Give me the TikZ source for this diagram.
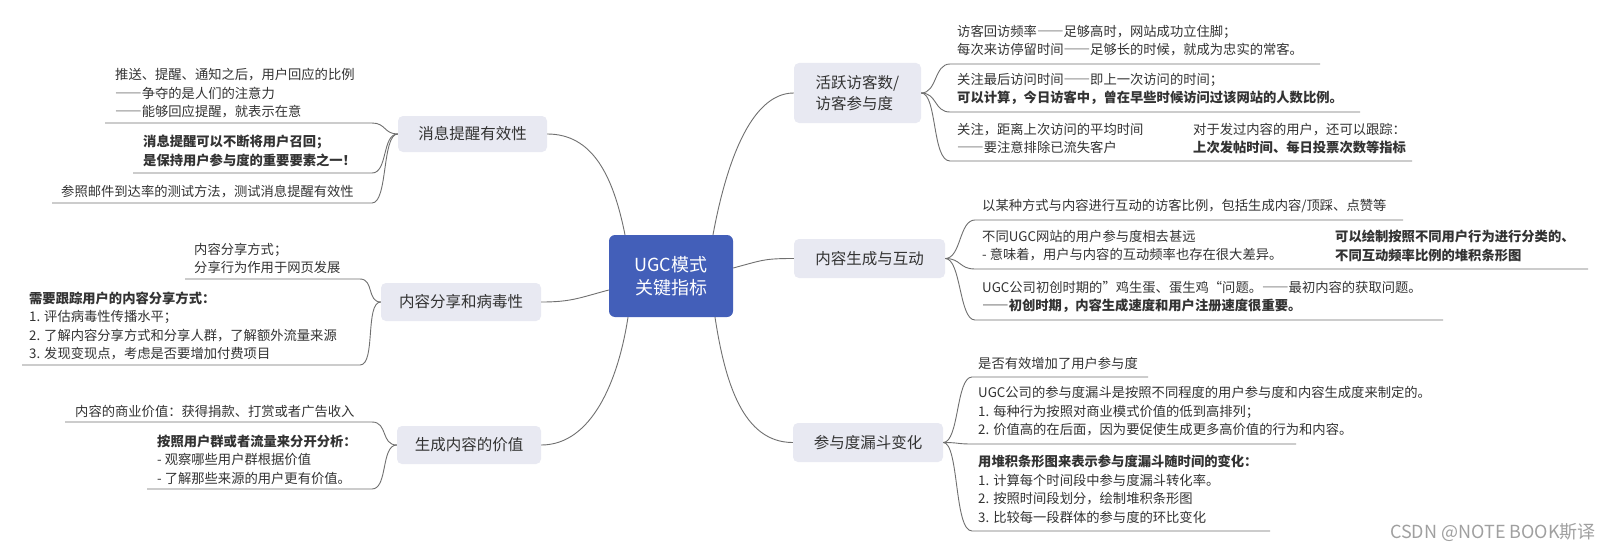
\documentclass[tikz,border=0pt]{standalone}
\usepackage{fontspec}
\setmainfont{Noto Sans CJK SC}
\newcommand\dsh{{\addfontfeature{RawFeature=+fwid}——}}
\definecolor{linec}{HTML}{707070}
\definecolor{txt}{HTML}{333333}
\definecolor{topicfill}{HTML}{E8E9F2}
\definecolor{centerfill}{HTML}{435FB9}
\definecolor{wmc}{HTML}{A0A0A0}
\begin{document}
\begin{tikzpicture}[x=1pt,y=-1pt,
  conn/.style={draw=linec,line width=0.9pt},
  topic/.style={fill=topicfill,rounded corners=5pt,text=txt,font=\fontsize{15.5}{21}\selectfont,inner sep=0pt,align=left},
  subtext/.style={text=txt,font=\fontsize{13.3}{18.5}\selectfont,align=left,inner sep=0pt,anchor=west},
  centerbox/.style={fill=centerfill,rounded corners=6pt,text=white,font=\fontsize{18}{23}\selectfont,align=center,inner sep=0pt,minimum width=124pt,minimum height=82pt}
  ]
\useasboundingbox[fill=white] (0,0) rectangle (1610,551);

% central node
\node[centerbox] (c) at (671,276) {UGC模式\\关键指标};

% topics
\node[topic,minimum width=149pt,minimum height=36pt] (m1) at (472.5,134) {消息提醒有效性};
\node[topic,minimum width=160pt,minimum height=38pt] (m2) at (461,302) {内容分享和病毒性};
\node[topic,minimum width=144pt,minimum height=38pt] (m3) at (469,445) {生成内容的价值};
\node[topic,minimum width=127pt,minimum height=60pt] (r1) at (857.5,93) {活跃访客数/\\访客参与度};
\node[topic,minimum width=151pt,minimum height=39pt] (r2) at (869.5,258.5) {内容生成与互动};
\node[topic,minimum width=150pt,minimum height=39pt] (r3) at (868,442.5) {参与度漏斗变化};

% center connectors
\draw[conn] ([xshift=-46pt]c.north) .. controls +(-12,-60) and +(45,0) .. (m1.east);
\draw[conn] ([yshift=-14pt]c.west) .. controls +(-30,8) and +(30,0) .. (m2.east);
\draw[conn] ([xshift=-43pt]c.south) .. controls +(-10,65) and +(50,0) .. (m3.east);
\draw[conn] ([xshift=42pt]c.north) .. controls +(12,-65) and +(-45,0) .. (r1.west);
\draw[conn] ([yshift=8pt]c.east) .. controls +(30,-8) and +(-30,0) .. (r2.west);
\draw[conn] ([xshift=44pt]c.south) .. controls +(10,65) and +(-50,0) .. (r3.west);

% ---------- right: 活跃访客数
\node[subtext] (a1) at (957,40.75) {访客回访频率\dsh 足够高时，网站成功立住脚；\\每次来访停留时间\dsh 足够长的时候，就成为忠实的常客。};
\node[subtext] (a2) at (957,88.75) {关注最后访问时间\dsh 即上一次访问的时间；\\\textbf{可以计算，今日访客中，曾在早些时候访问过该网站的人数比例。}};
\node[subtext] (a3) at (957,138.5) {关注，距离上次访问的平均时间\\\dsh 要注意排除已流失客户};
\node[subtext] (a3b) at (1193,138.5) {对于发过内容的用户，还可以跟踪：\\\textbf{上次发帖时间、每日投票次数等指标}};
\coordinate (a1s) at (950,64); \coordinate (a1e) at (1320,64);
\coordinate (a2s) at (950,112); \coordinate (a2e) at (1360,112);
\coordinate (a3s) at (950,161); \coordinate (a3e) at (1412,161);
\draw[conn] (r1.east) .. controls +(16,0) and +(-16,0) .. (a1s) -- (a1e);
\draw[conn] (r1.east) .. controls +(16,0) and +(-16,0) .. (a2s) -- (a2e);
\draw[conn] (r1.east) .. controls +(16,0) and +(-18,0) .. (a3s) -- (a3e);

% ---------- right: 内容生成与互动
\node[subtext] (b1) at (982,206) {以某种方式与内容进行互动的访客比例，包括生成内容/顶踩、点赞等};
\node[subtext] (b2) at (982,245.75) {不同UGC网站的用户参与度相去甚远\\- 意味着，用户与内容的互动频率也存在很大差异。};
\node[subtext] (b2b) at (1335,245.75) {\textbf{可以绘制按照不同用户行为进行分类的、}\\\textbf{不同互动频率比例的堆积条形图}};
\node[subtext] (b3) at (982,296.75) {UGC公司初创时期的”鸡生蛋、蛋生鸡“问题。\dsh 最初内容的获取问题。\\\textbf{\dsh 初创时期，内容生成速度和用户注册速度很重要。}};
\coordinate (b1s) at (975,220); \coordinate (b1e) at (1403,220);
\coordinate (b2s) at (975,269); \coordinate (b2e) at (1588,269);
\coordinate (b3s) at (975,320); \coordinate (b3e) at (1443,320);
\draw[conn] (r2.east) .. controls +(16,0) and +(-16,0) .. (b1s) -- (b1e);
\draw[conn] (r2.east) .. controls +(16,0) and +(-16,0) .. (b2s) -- (b2e);
\draw[conn] (r2.east) .. controls +(16,0) and +(-16,0) .. (b3s) -- (b3e);

% ---------- right: 参与度漏斗变化
\node[subtext] (c1) at (978,363) {是否有效增加了用户参与度};
\node[subtext] (c2) at (978,411.5) {UGC公司的参与度漏斗是按照不同程度的用户参与度和内容生成度来制定的。\\1. 每种行为按照对商业模式价值的低到高排列；\\2. 价值高的在后面，因为要促使生成更多高价值的行为和内容。};
\node[subtext] (c3) at (978,489.25) {\textbf{用堆积条形图来表示参与度漏斗随时间的变化：}\\1. 计算每个时间段中参与度漏斗转化率。\\2. 按照时间段划分，绘制堆积条形图\\3. 比较每一段群体的参与度的环比变化};
\coordinate (c1s) at (972,377); \coordinate (c1e) at (1148,377);
\coordinate (c2s) at (972,444); \coordinate (c2e) at (1296,444);
\coordinate (c3s) at (972,531); \coordinate (c3e) at (1270,531);
\draw[conn] (r3.east) .. controls +(16,0) and +(-16,0) .. (c1s) -- (c1e);
\draw[conn] (r3.east) .. controls +(16,0) and +(-16,0) .. (c2s) -- (c2e);
\draw[conn] (r3.east) .. controls +(16,0) and +(-18,0) .. (c3s) -- (c3e);

% ---------- left: 消息提醒有效性
\node[subtext] (d1) at (115,93.5) {推送、提醒、通知之后，用户回应的比例\\\dsh 争夺的是人们的注意力\\\dsh 能够回应提醒，就表示在意};
\node[subtext] (d2) at (143,151) {\textbf{消息提醒可以不断将用户召回；}\\\textbf{是保持用户参与度的重要要素之一！}};
\node[subtext] (d3) at (61,192) {参照邮件到达率的测试方法，测试消息提醒有效性};
\coordinate (d1s) at (372,123); \coordinate (d1e) at (105,123);
\coordinate (d2s) at (372,173); \coordinate (d2e) at (133,173);
\coordinate (d3s) at (372,203); \coordinate (d3e) at (52,203);
\draw[conn] (m1.west) .. controls +(-14,0) and +(14,0) .. (d1s) -- (d1e);
\draw[conn] (m1.west) .. controls +(-16,0) and +(16,0) .. (d2s) -- (d2e);
\draw[conn] (m1.west) .. controls +(-16,0) and +(16,0) .. (d3s) -- (d3e);

% ---------- left: 内容分享和病毒性
\node[subtext] (e1) at (194,258.5) {内容分享方式；\\分享行为作用于网页发展};
\node[subtext] (e2) at (29,326) {\textbf{需要跟踪用户的内容分享方式：}\\1. 评估病毒性传播水平；\\2. 了解内容分享方式和分享人群，了解额外流量来源\\3. 发现变现点，考虑是否要增加付费项目};
\coordinate (e1s) at (360,279); \coordinate (e1e) at (185,279);
\coordinate (e2s) at (360,365); \coordinate (e2e) at (22,365);
\draw[conn] (m2.west) .. controls +(-14,0) and +(14,0) .. (e1s) -- (e1e);
\draw[conn] (m2.west) .. controls +(-16,0) and +(16,0) .. (e2s) -- (e2e);

% ---------- left: 生成内容的价值
\node[subtext] (f1) at (75,411) {内容的商业价值：获得捐款、打赏或者广告收入};
\node[subtext] (f2) at (157,459.5) {\textbf{按照用户群或者流量来分开分析：}\\- 观察哪些用户群根据价值\\- 了解那些来源的用户更有价值。};
\coordinate (f1s) at (372,422); \coordinate (f1e) at (65,422);
\coordinate (f2s) at (372,489); \coordinate (f2e) at (147,489);
\draw[conn] (m3.west) .. controls +(-16,0) and +(16,0) .. (f1s) -- (f1e);
\draw[conn] (m3.west) .. controls +(-16,0) and +(16,0) .. (f2s) -- (f2e);

% watermark
\node[font=\fontsize{18}{21}\selectfont,text=wmc,anchor=east,inner sep=0pt] (wm) at (1596,533) {CSDN @NOTE BOOK斯译};
\end{tikzpicture}
\end{document}
